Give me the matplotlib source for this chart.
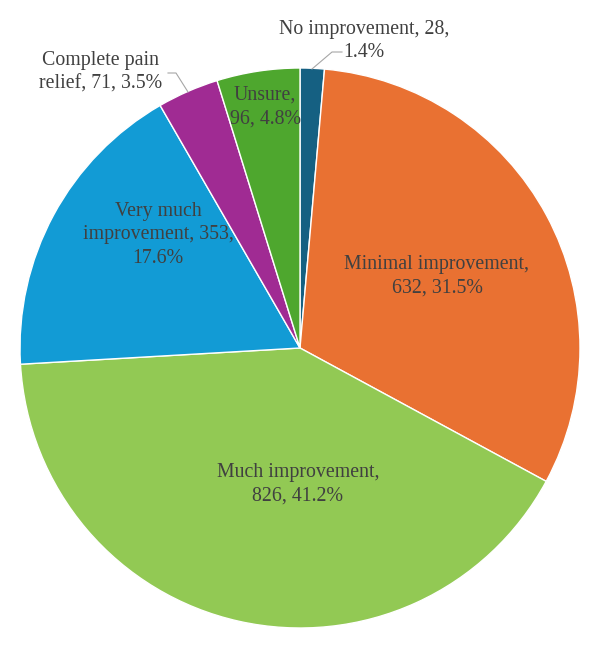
import matplotlib
matplotlib.use("Agg")
import matplotlib.pyplot as plt

# data
labels = ["No improvement", "Minimal improvement", "Much improvement",
          "Very much improvement", "Complete pain relief", "Unsure"]
counts = [28, 632, 826, 353, 71, 96]
pcts = ["1.4%", "31.5%", "41.2%", "17.6%", "3.5%", "4.8%"]
colors = ["#156082", "#E97132", "#92C954", "#129BD5", "#A02B93", "#4EA72E"]

# label texts (line breaks as in the picture)
texts = ["No improvement, 28,\n1.4%",
         "Minimal improvement,\n632, 31.5%",
         "Much improvement,\n826, 41.2%",
         "Very much\nimprovement, 353,\n17.6%",
         "Complete pain\nrelief, 71, 3.5%",
         "Unsure,\n96, 4.8%"]

plt.rcParams['font.family'] = ['Liberation Serif', 'DejaVu Serif']

fig = plt.figure(figsize=(6, 6.48), dpi=100)
ax = fig.add_axes([20/600, 20/648, 560/600, 560/648])
ax.pie(counts, colors=colors, startangle=90, counterclock=False,
       radius=1, wedgeprops=dict(edgecolor="white", linewidth=1))
ax.set_xlim(-1, 1)
ax.set_ylim(-1, 1)
ax.axis("off")


def p(px, py):
    return (px - 300) / 280, (348 - py) / 280


tc = "#404040"
fs = 14.3
pos = [p(364, 41), p(437, 276), p(298, 484), p(158, 235), p(101, 72), p(265, 107)]
for t, (x, y) in zip(texts, pos):
    ax.text(x, y, t, ha="center", va="center", fontsize=fs, color=tc,
            linespacing=1.3, clip_on=False)

# leader lines
lx, ly = zip(p(312, 69), p(332, 52), p(342, 52))
ax.plot(lx, ly, color="#a6a6a6", lw=0.8, clip_on=False)
lx, ly = zip(p(188, 92), p(176, 73), p(168, 73))
ax.plot(lx, ly, color="#a6a6a6", lw=0.8, clip_on=False)

fig.savefig("out.png", dpi=100)
